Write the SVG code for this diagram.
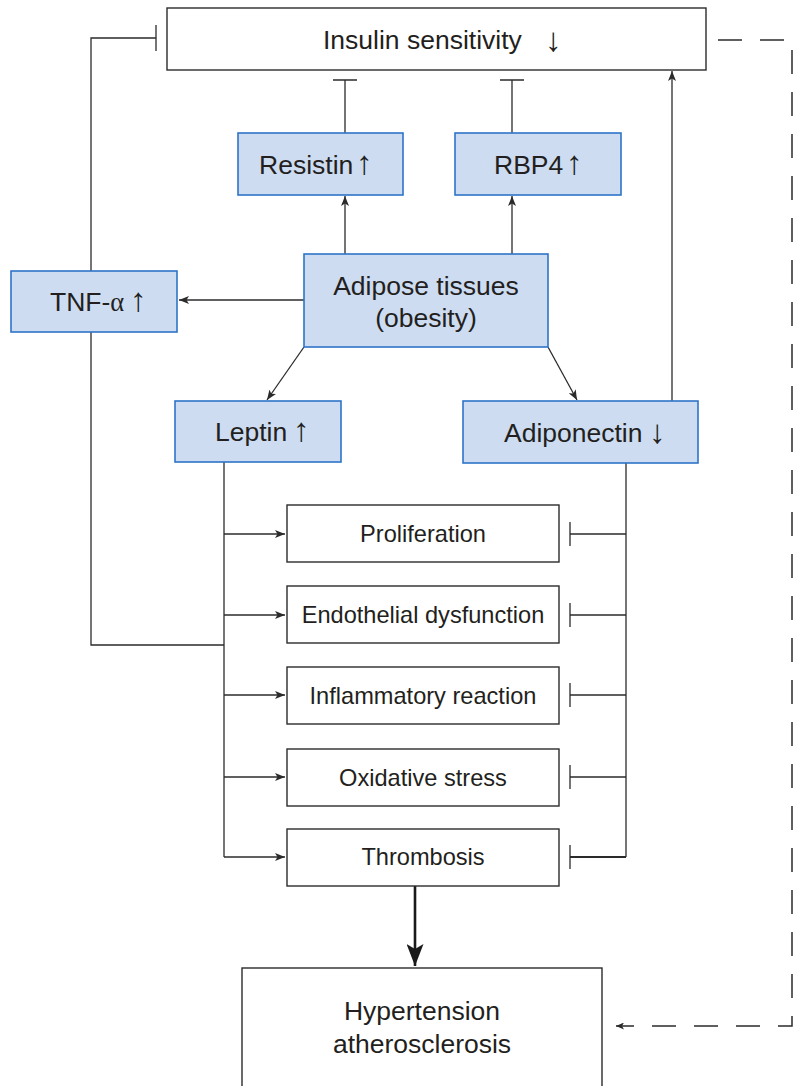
<svg xmlns="http://www.w3.org/2000/svg" width="797" height="1086" viewBox="0 0 797 1086">
<style>
.bb{fill:#cddcf1;stroke:#2e74c9;stroke-width:1.6}
.wb{fill:#ffffff;stroke:#2b2b2b;stroke-width:1.4}
.t{font-family:"Liberation Sans",Arial,Helvetica,sans-serif;fill:#231f20}
.L{font-size:26.5px}
.S{font-size:23.6px;text-anchor:middle}
.a{font-size:33px}
.c{fill:none;stroke:#2b2b2b;stroke-width:1.3}
.ar{marker-end:url(#ah)}
</style>
<defs>
<marker id="ah" viewBox="0 0 10 8" markerWidth="10" markerHeight="8" refX="10" refY="4" orient="auto" markerUnits="userSpaceOnUse">
<path d="M0,0 L10,4 L0,8 L2.5,4 z" fill="#2b2b2b"/>
</marker>
<marker id="big" viewBox="0 0 22 17" markerWidth="22" markerHeight="17" refX="22" refY="8.5" orient="auto" markerUnits="userSpaceOnUse">
<path d="M0,0 L22,8.5 L0,17 L5,8.5 z" fill="#1a1a1a"/>
</marker>
<marker id="sm" viewBox="0 0 8 7" markerWidth="8" markerHeight="7" refX="8" refY="3.5" orient="auto" markerUnits="userSpaceOnUse">
<path d="M0,0 L8,3.5 L0,7 L2,3.5 z" fill="#2b2b2b"/>
</marker>
</defs>
<rect width="797" height="1086" fill="#ffffff"/>

<g id="connectors">
<path class="c" d="M91,271 V38 H156"/>
<path class="c" d="M156,25 V51"/>
<path class="c" d="M91,332 V645 H224"/>
<path class="c" d="M345,133 V80 M333,80 H357"/>
<path class="c" d="M512,133 V80 M500,80 H524"/>
<path class="c ar" d="M345,254 V196"/>
<path class="c ar" d="M512,254 V196"/>
<path class="c ar" d="M304,300 H179"/>
<path class="c ar" d="M304,347 L267,400"/>
<path class="c ar" d="M548,347 L577,400"/>
<path class="c ar" d="M672,401 V71"/>
<path class="c" d="M224,462 V857"/>
<path class="c ar" d="M224,534 H285"/>
<path class="c ar" d="M224,615 H285"/>
<path class="c ar" d="M224,695 H285"/>
<path class="c ar" d="M224,777 H285"/>
<path class="c ar" d="M224,857 H285"/>
<path class="c" d="M626,463 V857"/>
<path class="c" d="M626,534 H570 M570,522 V546"/>
<path class="c" d="M626,615 H570 M570,603 V627"/>
<path class="c" d="M626,695 H570 M570,683 V707"/>
<path class="c" d="M626,777 H570 M570,765 V789"/>
<path class="c" d="M626,857 H570" style="stroke-width:2"/>
<path class="c" d="M570,845 V869"/>
<path d="M415,886 V966" fill="none" stroke="#1a1a1a" stroke-width="2.6" marker-end="url(#big)"/>
<path class="c" d="M718,40 H792 V1026 H616" stroke-dasharray="24 18" marker-end="url(#sm)" style="stroke-width:1.5"/>
</g>

<g id="insulin">
<rect class="wb" x="167" y="8" width="539" height="62"/>
<text class="t L" x="323" y="49">Insulin sensitivity<tspan class="a" x="545" y="51">↓</tspan></text>
</g>
<g id="resistin">
<rect class="bb" x="238" y="133" width="165" height="62"/>
<text class="t L" x="259" y="173.5">Resistin<tspan class="a" x="356">↑</tspan></text>
</g>
<g id="rbp4">
<rect class="bb" x="455" y="133" width="166" height="62"/>
<text class="t L" x="494" y="173.5">RBP4<tspan class="a" x="566">↑</tspan></text>
</g>
<g id="tnf">
<rect class="bb" x="11" y="271" width="166" height="61"/>
<text class="t L" x="50" y="311">TNF-<tspan font-family="Liberation Serif, serif">α</tspan><tspan class="a" x="130">↑</tspan></text>
</g>
<g id="adipose">
<rect class="bb" x="304" y="254" width="244" height="93"/>
<text class="t L" x="426" y="295" text-anchor="middle">Adipose tissues</text>
<text class="t L" x="426" y="327" text-anchor="middle">(obesity)</text>
</g>
<g id="leptin">
<rect class="bb" x="175" y="401" width="166" height="61"/>
<text class="t L" x="215" y="441">Leptin<tspan class="a" x="293">↑</tspan></text>
</g>
<g id="adiponectin">
<rect class="bb" x="463" y="401" width="235" height="62"/>
<text class="t L" x="504" y="441.5">Adiponectin<tspan class="a" x="649" y="443">↓</tspan></text>
</g>
<g id="proliferation">
<rect class="wb" x="287" y="505" width="272" height="57"/>
<text class="t S" x="423" y="542">Proliferation</text>
</g>
<g id="endothelial">
<rect class="wb" x="287" y="586" width="272" height="57"/>
<text class="t S" x="423" y="622.5">Endothelial dysfunction</text>
</g>
<g id="inflammatory">
<rect class="wb" x="287" y="667" width="272" height="57"/>
<text class="t S" x="423" y="703.5">Inflammatory reaction</text>
</g>
<g id="oxidative">
<rect class="wb" x="287" y="749" width="272" height="57"/>
<text class="t S" x="423" y="785.5">Oxidative stress</text>
</g>
<g id="thrombosis">
<rect class="wb" x="287" y="829" width="272" height="57"/>
<text class="t S" x="423" y="865">Thrombosis</text>
</g>
<g id="hypertension">
<rect class="wb" x="242" y="968" width="360" height="130"/>
<text class="t L" x="422" y="1020" text-anchor="middle">Hypertension</text>
<text class="t L" x="422" y="1053" text-anchor="middle">atherosclerosis</text>
</g>
</svg>
